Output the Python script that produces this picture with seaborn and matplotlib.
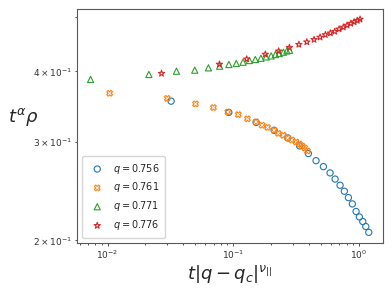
#!/usr/bin/env python3
import matplotlib

matplotlib.use("Agg")
import matplotlib.pyplot as plt
import pandas as pd
import seaborn as sns

# values
x_756 = [0.0321, 0.0924, 0.1524, 0.2120, 0.2723, 0.338, 0.397, 0.457, 0.523, 0.591,
         0.648, 0.710, 0.768, 0.827, 0.889, 0.952, 1.011, 1.076, 1.137, 1.201]
y_756 = [0.3541, 0.3382, 0.3246, 0.3142, 0.3045, 0.2947, 0.2856, 0.2774, 0.2707, 0.2638,
         0.2572, 0.2508, 0.2447, 0.2384, 0.2323, 0.2252, 0.2202, 0.2161, 0.2117, 0.2067]

x_761 = [0.0104, 0.0299, 0.0502, 0.0697, 0.0907, 0.110, 0.130, 0.152, 0.170, 0.188,
         0.212, 0.229, 0.251, 0.272, 0.293, 0.317, 0.337, 0.354, 0.372, 0.390]
y_761 = [0.3657, 0.3582, 0.3502, 0.3449, 0.3386, 0.3351, 0.3294, 0.3253, 0.3208, 0.3180,
         0.3143, 0.3103, 0.3078, 0.3045, 0.3020, 0.2995, 0.2971, 0.2947, 0.2922, 0.2886]

x_771 = [0.00733, 0.02135, 0.0354, 0.0495, 0.0636, 0.0781, 0.0925, 0.1059, 0.1199, 0.1346,
         0.1502, 0.1664, 0.1835, 0.2006, 0.2172, 0.2331, 0.2512, 0.2677, 0.2812]
y_771 = [0.3871, 0.3951, 0.4005, 0.4022, 0.4060, 0.4088, 0.4116, 0.4133, 0.4155, 0.4184,
         0.4201, 0.4223, 0.4246, 0.4264, 0.4288, 0.4306, 0.4329, 0.4352, 0.4364]

x_776 = [0.0269, 0.0778, 0.1283, 0.1804, 0.2302, 0.2805, 0.3336, 0.3859, 0.4407, 0.4918,
         0.5423, 0.5945, 0.6442, 0.6971, 0.7543, 0.8070, 0.8636, 0.9176, 0.9747, 1.024]
y_776 = [0.3968, 0.4119, 0.4208, 0.4292, 0.4349, 0.4412, 0.4468, 0.4514, 0.4559, 0.4603,
         0.4650, 0.4682, 0.4713, 0.4760, 0.4795, 0.4834, 0.4870, 0.4900, 0.4930, 0.4955]

series = [
    ("0.756", x_756, y_756, "o", 20),
    ("0.761", x_761, y_761, "X", 17),
    ("0.771", x_771, y_771, "^", 20),
    ("0.776", x_776, y_776, "*", 22),
]

sns.set_theme(style="ticks")
plt.rcParams["font.family"] = ["DejaVu Sans"]
palette = sns.color_palette("tab10")

fig = plt.figure(figsize=(3.92, 2.94), dpi=100)
ax = fig.add_axes([0.196, 0.174, 0.782, 0.794])

for i, (q, xs, ys, m, size) in enumerate(series):
    df = pd.DataFrame({"x": xs, "y": ys})
    sns.scatterplot(
        data=df, x="x", y="y", marker=m, s=size,
        facecolor="none", edgecolor=palette[i], linewidth=0.8,
        label=f"$q = {q}$", ax=ax,
    )

ax.set_xscale("log")
ax.set_yscale("log")
ax.set_xlim(0.0057, 1.57)
ax.set_ylim(0.198, 0.516)

for side in ["top", "right", "bottom", "left"]:
    ax.spines[side].set_visible(True)
    ax.spines[side].set_color("0.35")
    ax.spines[side].set_linewidth(0.8)
ax.tick_params(axis="both", which="both", labelsize=6.5, colors="0.2",
               length=2.5, width=0.6, pad=2)
ax.tick_params(axis="both", which="minor", length=1.5)

ax.set_xlabel(r"$t|q-q_c|^{\nu_{||}}$", fontsize=13, labelpad=1)
ax.set_ylabel(r"$t^{\alpha}\rho$", fontsize=13, rotation=0, ha="center", va="center")
ax.yaxis.set_label_coords(-0.175, 0.54)

ax.legend(loc="lower left", fontsize=7, frameon=True, borderpad=0.6,
          handletextpad=0.6, labelspacing=0.5)

fig.savefig("out.png", dpi=100)
plt.close(fig)
